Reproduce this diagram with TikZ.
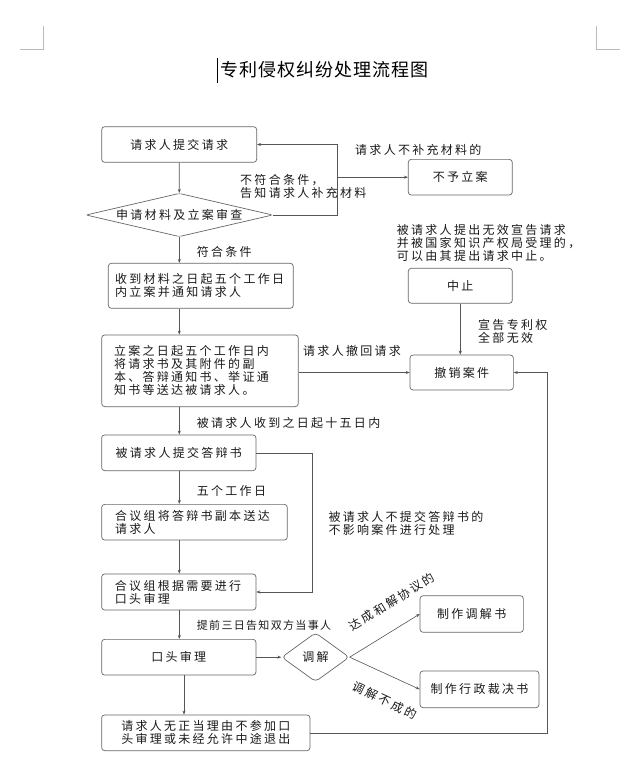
\documentclass[tikz,border=0pt]{standalone}
\usepackage{fontspec}
\newfontfamily\cjk[LetterSpace=19]{Noto Sans CJK SC}
\newfontfamily\cjktitle[LetterSpace=6]{Noto Sans CJK SC}
\newfontfamily\cjksmall[LetterSpace=12]{Noto Sans CJK SC}
\usetikzlibrary{shapes.geometric,arrows.meta}
\setlength{\parindent}{0pt}
\definecolor{linec}{HTML}{555555}
\definecolor{boxc}{HTML}{666666}
\definecolor{txtc}{HTML}{1A1A1A}
\definecolor{markc}{HTML}{BBBBBB}
\tikzset{
  base/.style={font=\cjk\fontsize{12}{13}\selectfont, text=txtc},
  box/.style={base, draw=boxc, line width=0.7pt, rounded corners=3pt, inner sep=0pt, align=center},
  boxl/.style={box, align=left},
  dia/.style={base, draw=boxc, line width=0.7pt, shape=diamond, rounded corners=2pt, inner sep=0pt},
  lbl/.style={base, inner sep=0pt, align=left, anchor=west},
  arr/.style={draw=linec, line width=0.6pt, -{Stealth[length=4pt,width=3pt]}},
  ln/.style={draw=linec, line width=0.6pt},
}
\begin{document}
\begin{tikzpicture}[x=1pt,y=-1pt]
\useasboundingbox (0,0) rectangle (634,784);
\fill[white] (0,0) rectangle (634,784);
% page marks and title
\draw[markc, line width=0.8pt] (20,49.3) -- (43.3,49.3) -- (43.3,26);
\draw[markc, line width=0.8pt] (620,49.3) -- (596.3,49.3) -- (596.3,26);
\draw[line width=1.3pt] (217.5,58.3) -- (217.5,83.3);
\node[font=\cjktitle\fontsize{18}{20}\selectfont, text=black, inner sep=0pt] (title) at (324.5,70) {专利侵权纠纷处理流程图};
% main column
\node[box, minimum width=155pt, minimum height=35.6pt] (b1) at (179.2,144.5) {请求人提交请求};
\node[dia, minimum width=186.7pt, minimum height=43.4pt, aspect=4.3] (d1) at (179.3,215) {申请材料及立案审查};
\node[boxl, text width=171.6pt, inner xsep=6.7pt, minimum height=45pt] (b2) at (200.8,285.8) {收到材料之日起五个工作日\\内立案并通知请求人};
\node[boxl, text width=172pt, inner xsep=12.3pt, minimum height=71.7pt] (b3) at (200,370.8) {立案之日起五个工作日内\\将请求书及其附件的副\\本、答辩通知书、举证通\\知书等送达被请求人。};
\node[box, minimum width=154.3pt, minimum height=35.7pt] (b4) at (178.8,452.8) {被请求人提交答辩书};
\node[boxl, text width=159pt, inner xsep=13.3pt, minimum height=35.7pt] (b5) at (194.5,522.2) {合议组将答辩书副本送达\\请求人};
\node[boxl, text width=127.7pt, inner xsep=13.3pt, minimum height=36pt] (b6) at (178.8,592) {合议组根据需要进行\\口头审理};
\node[box, minimum width=154.3pt, minimum height=35.7pt] (b7) at (178.8,657.2) {口头审理};
\node[box, minimum width=208.3pt, minimum height=35.7pt] (b8) at (205.8,732.8) {请求人无正当理由不参加口\\头审理或未经允许中途退出};
% right column
\node[box, minimum width=104pt, minimum height=35.7pt] (n1) at (460.3,177.2) {不予立案};
\node[box, minimum width=104pt, minimum height=35pt] (n2) at (460.3,285.8) {中止};
\node[box, minimum width=103.3pt, minimum height=35pt] (n3) at (461.7,372.5) {撤销案件};
\node[box, minimum width=103.3pt, minimum height=36.6pt] (m1) at (471.7,614) {制作调解书};
\node[box, minimum width=119pt, minimum height=36.7pt] (m2) at (479.5,689.3) {制作行政裁决书};
\node[dia, minimum width=67.6pt, minimum height=49pt, aspect=1.4, rounded corners=4pt] (d2) at (315.5,657.2) {调解};
% connectors
\draw[arr] (b1.south) -- (d1.north);
\draw[arr] (d1.south) -- (d1.south |- b2.north);
\draw[arr] (d1.south |- b2.south) -- (d1.south |- b3.north);
\draw[arr] (d1.south |- b3.south) -- (d1.south |- b4.north);
\draw[arr] (d1.south |- b4.south) -- (d1.south |- b5.north);
\draw[arr] (d1.south |- b5.south) -- (d1.south |- b6.north);
\draw[arr] (d1.south |- b6.south) -- (d1.south |- b7.north);
\coordinate (c7) at (184,0);
\draw[arr] (c7 |- b7.south) -- (c7 |- b8.north);
\coordinate (k1) at (337.3,215);
\draw[arr] (d1.east) -- (k1) -- (k1 |- b1.east) -- (b1.east);
\draw[arr] (k1 |- n1.west) -- (n1.west);
\draw[arr] (n2.south) -- (n2.south |- n3.north);
\draw[arr] (b3.east |- n3.west) -- (n3.west);
\coordinate (k2) at (312.3,0);
\draw[arr] (b4.east) -- (k2 |- b4.east) -- (k2 |- b6.east) -- (b6.east);
\draw[arr] (b7.east) -- (d2.west);
\draw[arr] (d2.east) -- (m1.west);
\draw[arr] (d2.east) -- (m2.west);
\coordinate (k3) at (547.3,0);
\draw[arr] (b8.east) -- (k3 |- b8.east) -- (k3 |- n3.east) -- (n3.east);
% labels
\node[lbl] (t1) at (240,186.5) {不符合条件，\\告知请求人补充材料};
\node[lbl] (t2) at (355,150) {请求人不补充材料的};
\node[lbl] (t3) at (196.7,251.7) {符合条件};
\node[lbl] (t4) at (396.7,243.3) {被请求人提出无效宣告请求\\并被国家知识产权局受理的，\\可以由其提出请求中止。};
\node[lbl] (t5) at (478,331.7) {宣告专利权\\全部无效};
\node[lbl] (t6) at (303,350.7) {请求人撤回请求};
\node[lbl] (t7) at (196.7,423.3) {被请求人收到之日起十五日内};
\node[lbl] (t8) at (196.7,491) {五个工作日};
\node[lbl] (t9) at (328.3,523) {被请求人不提交答辩书的\\不影响案件进行处理};
\node[lbl, font=\cjksmall\fontsize{11}{12}\selectfont] (t10) at (196.7,625.7) {提前三日告知双方当事人};
\node[base, inner sep=0pt, rotate=31.7] (t11) at (392,601.5) {达成和解协议的};
\node[base, inner sep=0pt, rotate=-25.7] (t12) at (385,700.4) {调解不成的};
\end{tikzpicture}
\end{document}
